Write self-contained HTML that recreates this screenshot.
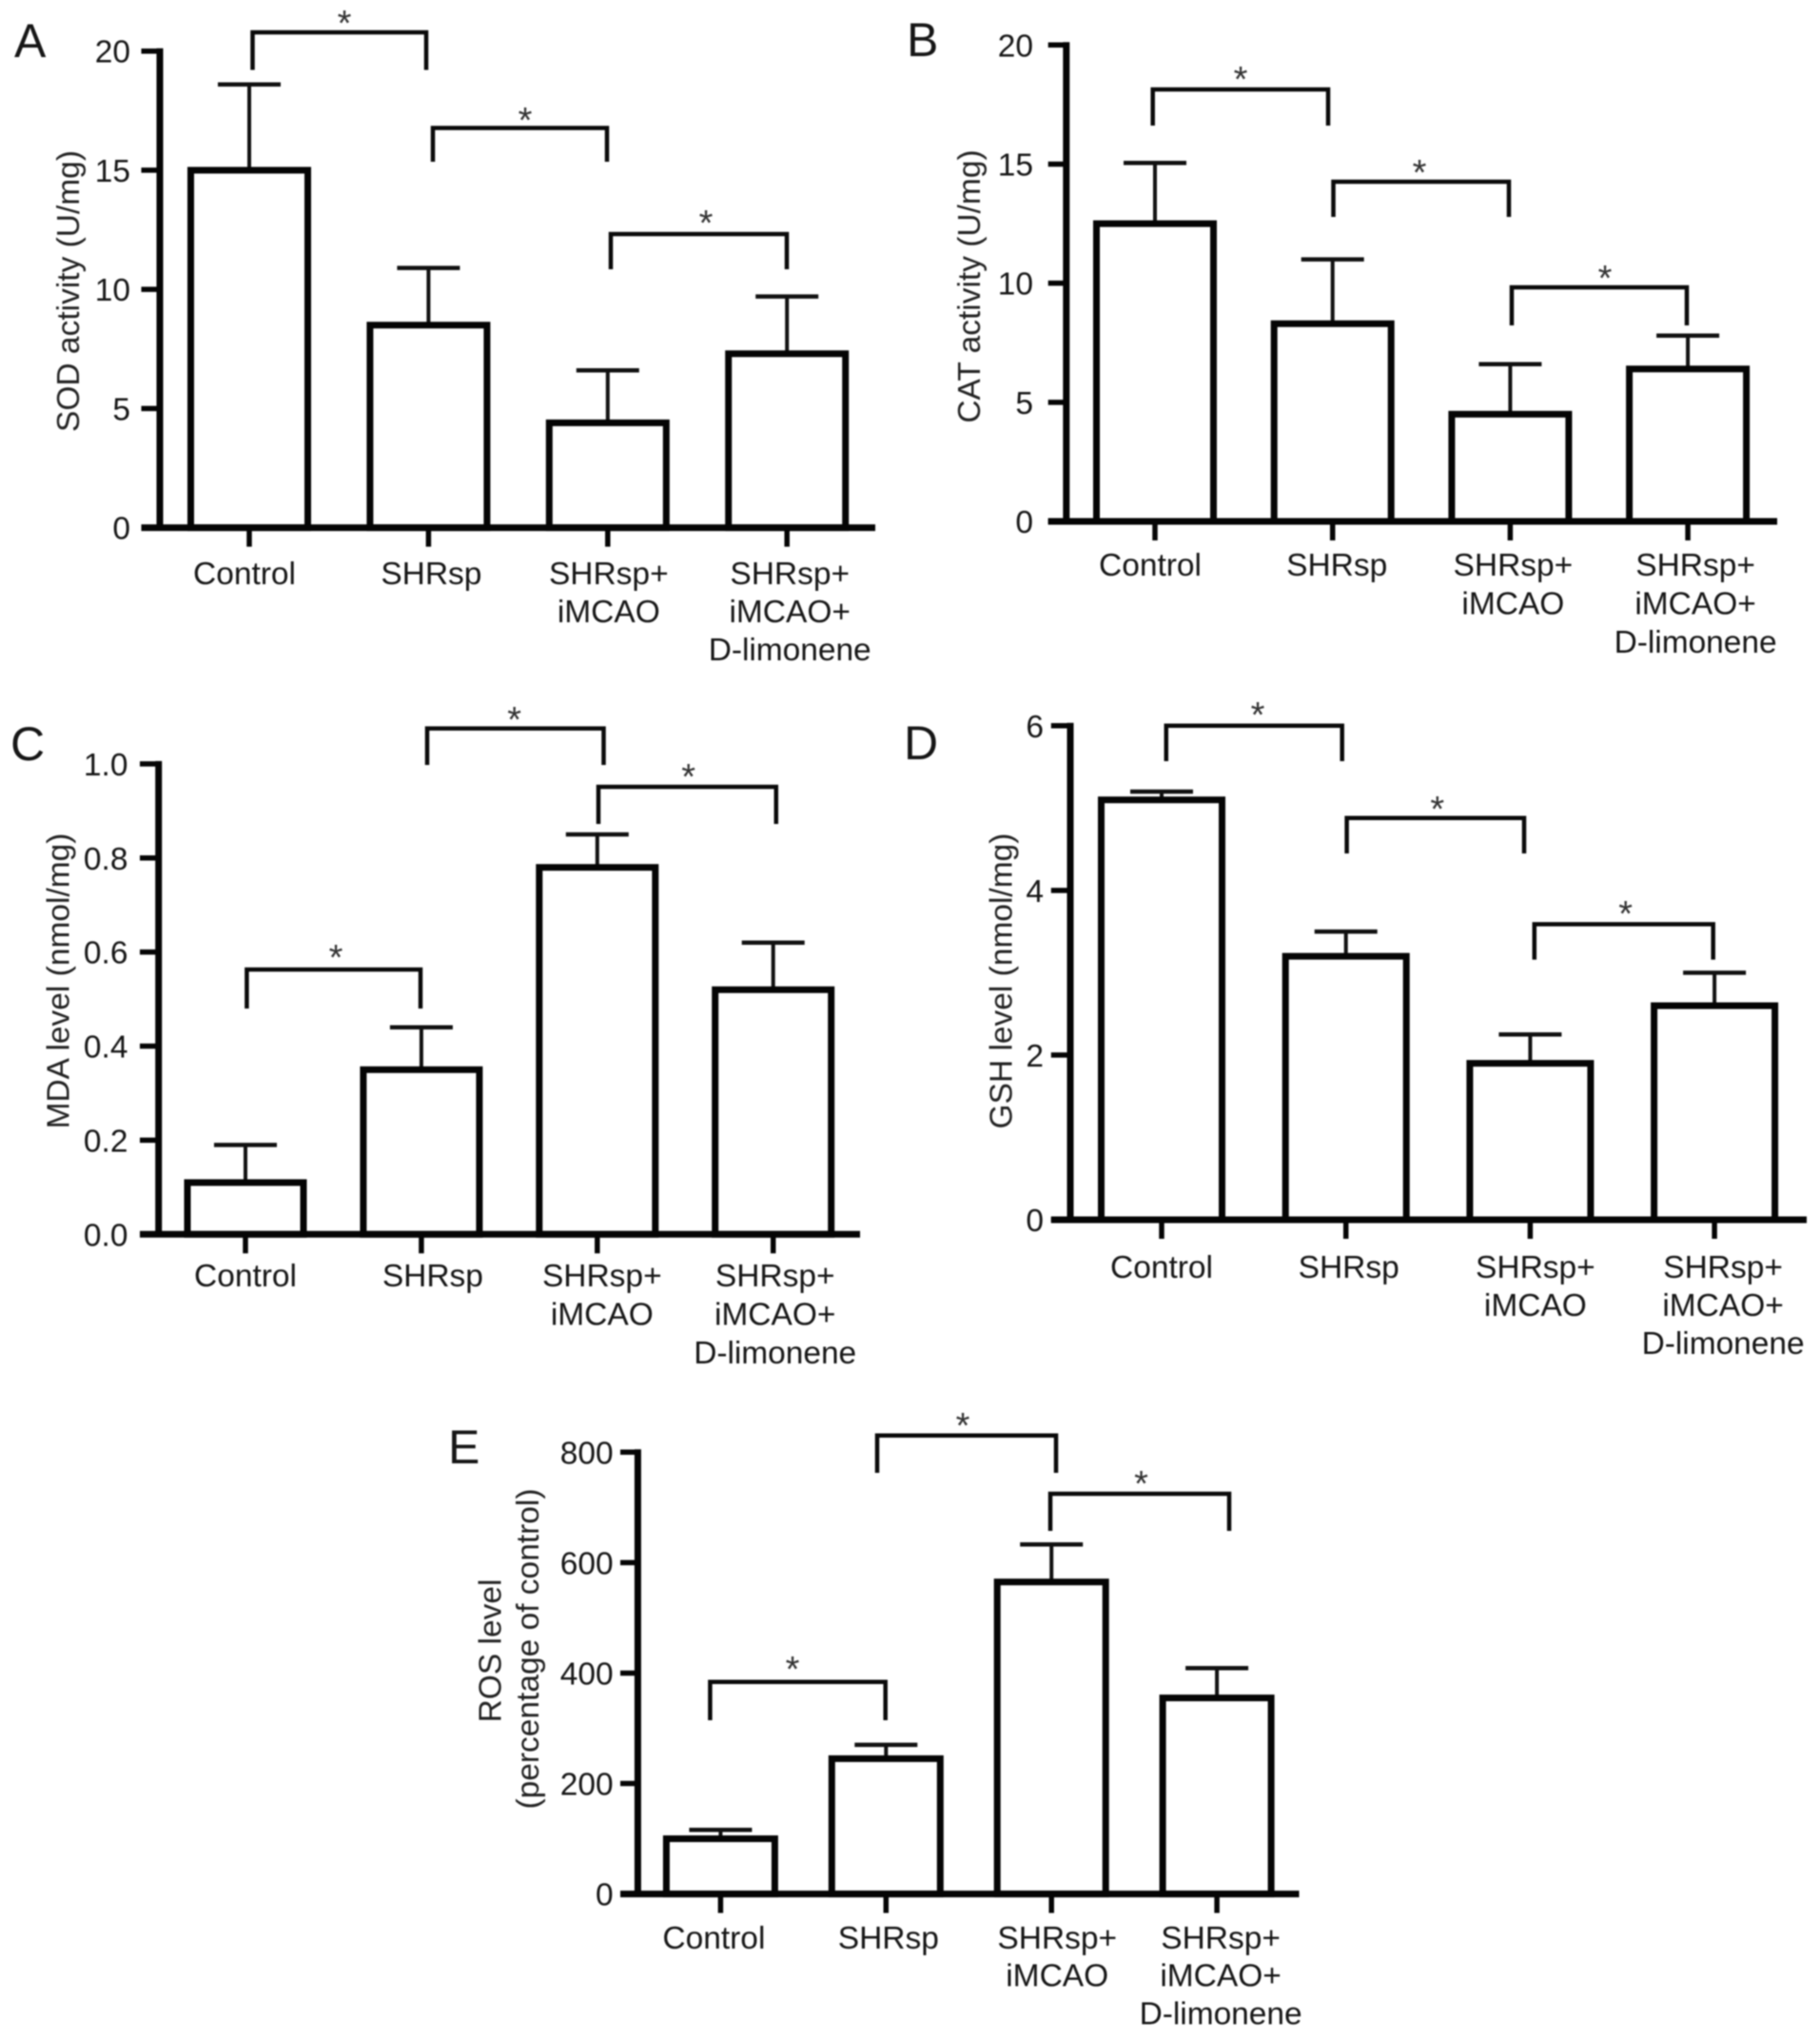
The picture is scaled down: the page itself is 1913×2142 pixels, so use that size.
<!DOCTYPE html>
<html lang="en">
<head>
<meta charset="utf-8">
<title>Oxidative stress markers bar charts</title>
<style>
  html, body { margin: 0; padding: 0; background: #fff; }
  #figure { display: block; width: 1913px; height: 2142px; filter: blur(0.8px); }
  text { font-family: "Liberation Sans", Arial, sans-serif; font-size: 33.5px; fill: #161616; }
  .letter { font-size: 50px; }
  .star { font-size: 38px; fill: #333; text-anchor: middle; }
  .ytitle { text-anchor: middle; fill: #222; }
  .bracket { fill: none; stroke: #0a0a0a; stroke-width: 4.5; }
</style>
</head>
<body>
<svg id="figure" xmlns="http://www.w3.org/2000/svg" width="1913" height="2142" viewBox="0 0 1913 2142">
  <rect x="0" y="0" width="1913" height="2142" fill="#fff"/>

  <g id="panel-a">
    <text class="letter" x="15" y="60">A</text>
    <text class="ytitle" x="83" y="306" transform="rotate(-90 83 306)">SOD activity (U/mg)</text>
    <path class="bracket" d="M265.5 73.5V34H448V73.5"/>
    <text class="star" x="362" y="37">*</text>
    <path class="bracket" d="M455 170V134.5H638V170"/>
    <text class="star" x="552" y="139">*</text>
    <path class="bracket" d="M642 283V246H827V283"/>
    <text class="star" x="742" y="247">*</text>
  </g>

  <g id="panel-b">
    <text class="letter" x="953" y="59">B</text>
    <text class="ytitle" x="1030" y="301" transform="rotate(-90 1030 301)">CAT activity (U/mg)</text>
    <path class="bracket" d="M1211.7 132V94H1396V132"/>
    <text class="star" x="1304" y="96">*</text>
    <path class="bracket" d="M1401.5 228V191H1586V228"/>
    <text class="star" x="1492" y="194">*</text>
    <path class="bracket" d="M1589 342V302H1773V342"/>
    <text class="star" x="1687" y="305">*</text>
  </g>

  <g id="panel-c">
    <text class="letter" x="11" y="799">C</text>
    <text class="ytitle" x="72.7" y="1031" transform="rotate(-90 72.7 1031)">MDA level (nmol/mg)</text>
    <path class="bracket" d="M259.4 1060V1019H442V1060"/>
    <text class="star" x="353" y="1019">*</text>
    <path class="bracket" d="M449 804V765.6H634.5V804"/>
    <text class="star" x="540.6" y="769">*</text>
    <path class="bracket" d="M629 866V827H815.8V866"/>
    <text class="star" x="723.6" y="829">*</text>
  </g>

  <g id="panel-d">
    <text class="letter" x="950" y="798">D</text>
    <text class="ytitle" x="1063.6" y="1031" transform="rotate(-90 1063.6 1031)">GSH level (nmol/mg)</text>
    <path class="bracket" d="M1225.8 800V762.8H1410.7V800"/>
    <text class="star" x="1322" y="764">*</text>
    <path class="bracket" d="M1415.6 897V859.7H1602V897"/>
    <text class="star" x="1510.8" y="863">*</text>
    <path class="bracket" d="M1612.8 1008.6V971.4H1800.7V1008.6"/>
    <text class="star" x="1708.6" y="973">*</text>
  </g>

  <g id="panel-e">
    <text class="letter" x="471" y="1538">E</text>
    <text class="ytitle" x="526.5" y="1735" transform="rotate(-90 526.5 1735)">ROS level</text>
    <text class="ytitle" x="566" y="1733" transform="rotate(-90 566 1733)">(percentage of control)</text>
    <path class="bracket" d="M746.4 1808V1767.7H930.7V1808"/>
    <text class="star" x="833" y="1767">*</text>
    <path class="bracket" d="M922 1548V1508.7H1110V1548"/>
    <text class="star" x="1012" y="1511">*</text>
    <path class="bracket" d="M1104 1609V1570H1292V1609"/>
    <text class="star" x="1199.5" y="1572">*</text>
  </g>
</svg>

<script>
// Shared categories (each entry = printed lines of the x-axis label)
const categories = [['Control'], ['SHRsp'], ['SHRsp+', 'iMCAO'], ['SHRsp+', 'iMCAO+', 'D-limonene']];

// Panel A
const sodMeans = [15, 8.5, 4.4, 7.3];
const sodErrorTops = [18.6, 10.9, 6.6, 9.7];
const sodTicks = ['0', '5', '10', '15', '20'];
// Panel B
const catMeans = [12.5, 8.3, 4.5, 6.4];
const catErrorTops = [15.05, 11, 6.6, 7.8];
const catTicks = ['0', '5', '10', '15', '20'];
// Panel C
const mdaMeans = [0.11, 0.35, 0.78, 0.52];
const mdaErrorTops = [0.19, 0.44, 0.85, 0.62];
const mdaTicks = ['0.0', '0.2', '0.4', '0.6', '0.8', '1.0'];
// Panel D
const gshMeans = [5.1, 3.2, 1.9, 2.6];
const gshErrorTops = [5.2, 3.5, 2.25, 3.0];
const gshTicks = ['0', '2', '4', '6'];
// Panel E
const rosMeans = [100, 245, 565, 355];
const rosErrorTops = [116, 270, 633, 409];
const rosTicks = ['0', '200', '400', '600', '800'];

const SVG_NS = 'http://www.w3.org/2000/svg';

function make(tag, attrs, parent) {
  const node = document.createElementNS(SVG_NS, tag);
  for (const key in attrs) node.setAttribute(key, attrs[key]);
  parent.appendChild(node);
  return node;
}

function drawPanel(id, means, errorTops, ticks, box) {
  const g = document.getElementById(id);
  const yMax = parseFloat(ticks[ticks.length - 1]);
  const y = function (v) { return box.zero - (box.zero - box.top) * v / yMax; };
  const x = function (i) { return box.x0 + i * box.step; };

  // error bars (behind the bars)
  means.forEach(function (m, i) {
    const stem = make('line', { x1: x(i), x2: x(i), y1: y(m), y2: y(errorTops[i]), stroke: '#111', 'stroke-width': 4 }, g);
    
    
    const cap = make('line', { x1: x(i) - 33, x2: x(i) + 33, y1: y(errorTops[i]), y2: y(errorTops[i]), stroke: '#111', 'stroke-width': 4.5 }, g);
    
    
  });

  // bars
  means.forEach(function (m, i) {
    const bar = make('rect', { x: x(i) - box.barW / 2, y: y(m), width: box.barW, height: box.zero - y(m), fill: '#fff', stroke: '#050505', 'stroke-width': 7 }, g);
    
    
  });

  // y axis
  const yAxis = make('line', { x1: box.left, x2: box.left, y1: box.top - 3, y2: box.zero + 3, stroke: '#050505', 'stroke-width': 7 }, g);
  
  

  ticks.forEach(function (t) {
    const v = parseFloat(t);
    const tick = make('line', { x1: box.tickLeft, x2: box.left, y1: y(v), y2: y(v), stroke: '#050505', 'stroke-width': 5.5 }, g);
    
    
    const label = make('text', { x: box.tickRight, y: y(v) + 12, 'text-anchor': 'end' }, g);
    
    
    label.textContent = t;
  });

  // x axis
  const xAxis = make('line', { x1: box.tickLeft, x2: box.xEnd, y1: box.zero, y2: box.zero, stroke: '#050505', 'stroke-width': 7 }, g);
  
  

  categories.forEach(function (lines, i) {
    const tick = make('line', { x1: x(i), x2: x(i), y1: box.zero, y2: box.zero + 20, stroke: '#050505', 'stroke-width': 5.5 }, g);
    
    
    lines.forEach(function (line, k) {
      const attrs = { x: x(i) + box.nudge[i], y: box.labelY + k * box.gap, 'text-anchor': 'middle' };
      if (line === 'D-limonene') { attrs.textLength = 171; attrs.lengthAdjust = 'spacing'; }
      const label = make('text', attrs, g);
      
      
      label.textContent = line;
    });
  });
}

drawPanel('panel-a', sodMeans, sodErrorTops, sodTicks, { left: 168, top: 53.7, zero: 554.6, x0: 262, step: 188.4, xEnd: 920, tickLeft: 148.5, tickRight: 137, labelY: 614, gap: 40, barW: 123, nudge: [-5, 3, 1, 3] });
drawPanel('panel-b', catMeans, catErrorTops, catTicks, { left: 1120.8, top: 47.3, zero: 548, x0: 1214, step: 186.7, xEnd: 1868, tickLeft: 1101.7, tickRight: 1086, labelY: 605, gap: 40.5, barW: 123, nudge: [-5, 4.5, 3, 8] });
drawPanel('panel-c', mdaMeans, mdaErrorTops, mdaTicks, { left: 166.7, top: 802.9, zero: 1297.3, x0: 258, step: 184.9, xEnd: 904, tickLeft: 147, tickRight: 134.5, labelY: 1352, gap: 40.5, barW: 122, nudge: [0, 12, 5, 2] });
drawPanel('panel-d', gshMeans, gshErrorTops, gshTicks, { left: 1125, top: 762.8, zero: 1282, x0: 1221, step: 193.7, xEnd: 1899, tickLeft: 1104.8, tickRight: 1097, labelY: 1343, gap: 40, barW: 127, nudge: [0, 3, 5.5, 9] });
drawPanel('panel-e', rosMeans, rosErrorTops, rosTicks, { left: 670.4, top: 1526.3, zero: 1990.6, x0: 757.4, step: 173.9, xEnd: 1365.5, tickLeft: 652, tickRight: 644.7, labelY: 2048, gap: 39.7, barW: 114, nudge: [-7, 2.5, 6, 4] });
</script>
</body>
</html>
